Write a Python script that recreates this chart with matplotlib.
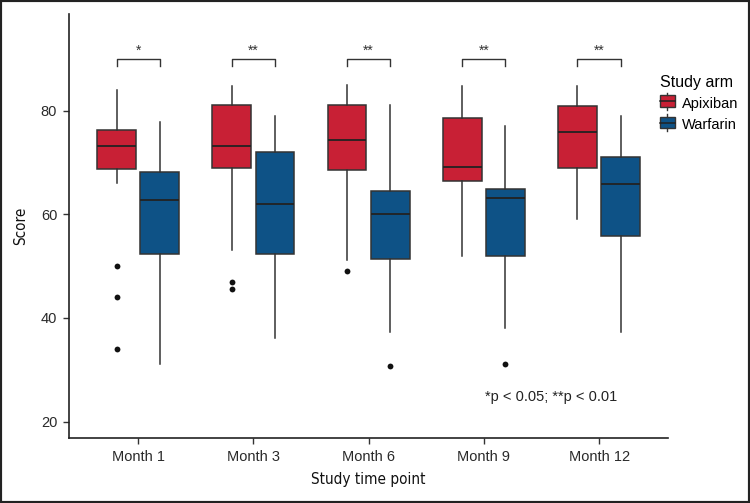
import matplotlib
matplotlib.use('Agg')
import numpy as np
import matplotlib.pyplot as plt
from matplotlib.patches import Rectangle
from matplotlib.lines import Line2D
from matplotlib.legend_handler import HandlerBase

plt.rcParams['font.family'] = ['Liberation Sans', 'DejaVu Sans']

# data
months = ['Month 1', 'Month 3', 'Month 6', 'Month 9', 'Month 12']
arms = ['Apixiban', 'Warfarin']
colors = ['#C82035', '#0E5286']

apix_whislo = [66.1, 53.1, 51.2, 52.0, 59.1]
apix_q1 = [68.7, 69.0, 68.5, 66.5, 69.0]
apix_med = [73.2, 73.2, 74.4, 69.2, 75.9]
apix_q3 = [76.3, 81.2, 81.2, 78.6, 81.0]
apix_whishi = [84.1, 84.9, 85.0, 84.9, 84.9]
apix_fliers = [[50.0, 44.1, 34.0], [47.0, 45.6], [49.0], [], []]

warf_whislo = [31.1, 36.2, 37.2, 38.1, 37.2]
warf_q1 = [52.4, 52.4, 51.3, 52.0, 55.9]
warf_med = [62.7, 62.0, 60.0, 63.2, 65.9]
warf_q3 = [68.2, 72.0, 64.5, 64.9, 71.0]
warf_whishi = [77.9, 79.0, 81.1, 77.0, 79.0]
warf_fliers = [[], [], [30.7], [31.1], []]

signif = ['*', '**', '**', '**', '**']
note = '*p < 0.05; **p < 0.01'


def make_stats(lo, q1, med, q3, hi, fl):
    out = []
    for i in range(len(lo)):
        out.append({'whislo': lo[i], 'q1': q1[i], 'med': med[i], 'q3': q3[i],
                    'whishi': hi[i], 'fliers': np.array(fl[i])})
    return out


stats = [make_stats(apix_whislo, apix_q1, apix_med, apix_q3, apix_whishi, apix_fliers),
         make_stats(warf_whislo, warf_q1, warf_med, warf_q3, warf_whishi, warf_fliers)]

fig = plt.figure(figsize=(7.5, 5.03), dpi=100)
ax = fig.add_axes([0.092, 0.129, 0.799, 0.843])

x = np.arange(len(months))
offs = [-0.1875, 0.1875]
edge = '#333333'
for k in range(2):
    ax.bxp(stats[k], positions=x + offs[k], widths=0.3375, patch_artist=True,
           showcaps=False, manage_ticks=False,
           boxprops=dict(facecolor=colors[k], edgecolor=edge, linewidth=1.1),
           whiskerprops=dict(color=edge, linewidth=1.1),
           medianprops=dict(color='#222222', linewidth=1.3),
           flierprops=dict(marker='o', markerfacecolor='#111111', markeredgecolor='none',
                           markersize=4.2))

# significance brackets
for i in range(len(months)):
    x1, x2 = x[i] + offs[0], x[i] + offs[1]
    ax.plot([x1, x1, x2, x2], [88.6, 90, 90, 88.6], color='#333333', lw=1.0)
    ax.text(x[i], 90.3, signif[i], ha='center', va='bottom', fontsize=10, color='#333333')

ax.text(3.58, 24.7, note, ha='center', va='center', fontsize=10.5, color='#222222')

ax.set_xlim(-0.6, 4.6)
ax.set_ylim(16.8, 98.7)
ax.set_xticks(x)
ax.set_xticklabels(months)
ax.set_yticks([20, 40, 60, 80])
ax.tick_params(axis='both', direction='out', length=4.5, width=1.0, color='#333333',
               labelsize=10.5, labelcolor='#2a2a2a', pad=4)
for s in ['top', 'right']:
    ax.spines[s].set_visible(False)
for s in ['left', 'bottom']:
    ax.spines[s].set_linewidth(1.2)
    ax.spines[s].set_color('#222222')

ax.set_xlabel('Study time point', fontsize=11, family='DejaVu Sans', fontstretch='condensed',
              color='#111111', labelpad=6)
ax.set_ylabel('Score', fontsize=11, family='DejaVu Sans', fontstretch='condensed',
              color='#111111', labelpad=9)


class BoxKey(HandlerBase):
    def create_artists(self, legend, orig_handle, xd, yd, w, h, fontsize, trans):
        r = Rectangle((xd, yd), w, h, facecolor=orig_handle.get_facecolor(),
                      edgecolor=edge, lw=1.0, transform=trans)
        m = Line2D([xd, xd + w], [yd + h / 2, yd + h / 2], color='#222222', lw=1.1, transform=trans)
        t = Line2D([xd + w / 2, xd + w / 2], [yd + h, yd + h + 2], color=edge, lw=1.0, transform=trans)
        b = Line2D([xd + w / 2, xd + w / 2], [yd - 2, yd], color=edge, lw=1.0, transform=trans)
        return [r, m, t, b]


handles = [Rectangle((0, 0), 1, 1, facecolor=c) for c in colors]
leg = fig.legend(handles, arms, title='Study arm', loc='upper left',
                 bbox_to_anchor=(0.866, 0.872), frameon=False, fontsize=10.5,
                 title_fontsize=11.5, handler_map={Rectangle: BoxKey()},
                 handlelength=1.05, handleheight=0.85, handletextpad=0.5,
                 labelspacing=0.5, borderpad=0.2)
leg._legend_box.align = 'left'

# frame around image
fig.patches.append(Rectangle((0, 0), 1, 1, transform=fig.transFigure, fill=False,
                             edgecolor='#222222', lw=3.0))

plt.savefig('out.png', dpi=100)
